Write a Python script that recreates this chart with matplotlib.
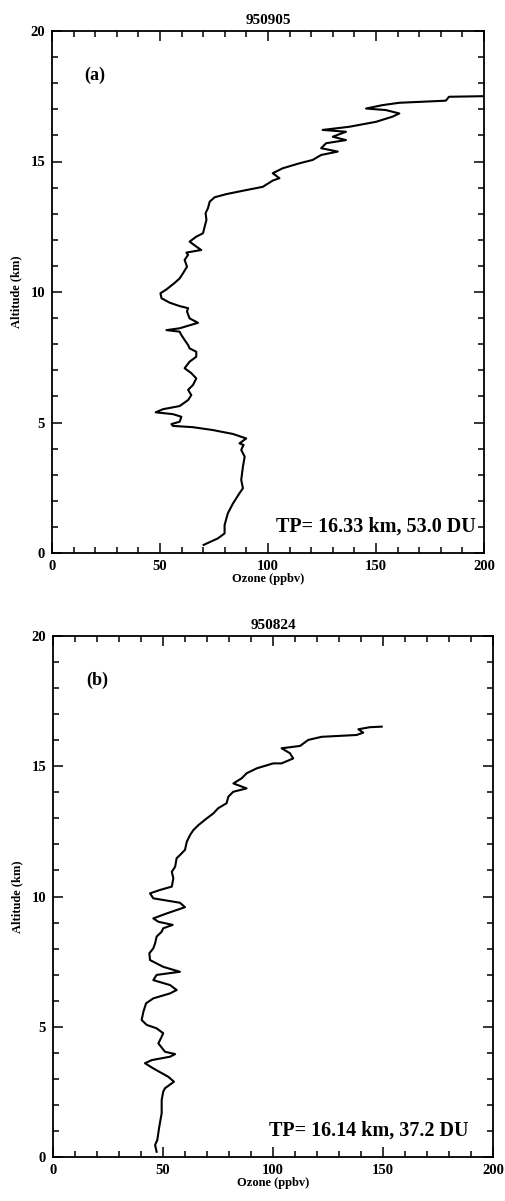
import matplotlib
matplotlib.use("Agg")
import matplotlib.pyplot as plt
from matplotlib.ticker import MultipleLocator

# ozone profile 950905 (panel a)
ozone_a = [70.2, 76.8, 79.9, 79.9, 81.4, 83.8, 86.8, 88.4, 87.6, 88.4, 89.2, 87.6, 88.7, 86.8, 89.9,
           83.8, 74.5, 65.3, 56.0, 55.3, 59.1, 59.9, 56.0, 48.0, 51.4, 59.1, 63.0, 64.5, 63.0, 65.3,
           66.8, 64.5, 61.4, 63.7, 66.8, 66.8, 63.7, 63.0, 61.4, 59.9, 59.1, 53.0, 59.1, 67.6, 63.7,
           62.5, 63.0, 59.1, 54.5, 50.7, 50.2, 53.0, 56.8, 59.1, 60.6, 62.5, 61.4, 63.0, 62.2, 69.1,
           66.8, 63.7, 66.8, 69.9, 70.7, 71.5, 71.1, 72.2, 73.0, 75.3, 80.7, 88.4, 97.6, 102.2, 105.3,
           102.2, 106.8, 114.5, 120.7, 124.6, 132.3, 124.6, 126.9, 136.1, 130.0, 136.1, 125.3, 137.6,
           150.0, 157.7, 160.8, 154.6, 145.4, 153.0, 160.8, 182.3, 183.8, 205.0]
alt_a = [0.31, 0.56, 0.75, 1.07, 1.52, 1.90, 2.29, 2.48, 2.80, 3.31, 3.69, 3.95, 4.14, 4.20, 4.39,
         4.56, 4.71, 4.82, 4.87, 4.94, 5.03, 5.22, 5.32, 5.39, 5.51, 5.63, 5.86, 6.05, 6.25, 6.44,
         6.69, 6.89, 7.08, 7.33, 7.52, 7.71, 7.84, 7.97, 8.16, 8.35, 8.48, 8.54, 8.61, 8.82, 8.99,
         9.25, 9.38, 9.46, 9.59, 9.76, 9.95, 10.10, 10.35, 10.52, 10.71, 10.97, 11.23, 11.42, 11.51, 11.61,
         11.74, 11.93, 12.12, 12.25, 12.51, 12.76, 13.02, 13.21, 13.46, 13.63, 13.75, 13.88, 14.03, 14.27, 14.36,
         14.55, 14.74, 14.93, 15.06, 15.25, 15.38, 15.51, 15.70, 15.82, 15.95, 16.14, 16.21, 16.33,
         16.52, 16.72, 16.84, 16.97, 17.03, 17.16, 17.25, 17.33, 17.48, 17.51]

# ozone profile 950824 (panel b)
ozone_b = [47.1, 46.4, 47.4, 48.3, 49.4, 49.4, 50.1, 50.9, 55.0, 52.4, 45.6, 41.8, 44.9, 53.2, 55.5,
           50.9, 47.9, 49.4, 50.1, 47.1, 42.6, 40.3, 41.1, 42.3, 45.6, 53.2, 56.2, 53.2, 45.6, 47.1,
           57.7, 50.1, 44.1, 43.8, 45.6, 46.4, 47.1, 49.4, 50.1, 54.4, 47.9, 45.6, 51.7, 60.0, 57.7,
           45.6, 44.1, 48.6, 54.0, 54.7, 54.0, 55.5, 56.2, 57.7, 60.0, 60.8, 62.3, 63.8, 66.1, 69.9,
           72.9, 75.1, 78.9, 79.7, 81.9, 88.0, 82.0, 85.8, 88.0, 92.6, 100.1, 103.9, 109.2, 107.7,
           103.9, 112.3, 116.0, 122.1, 138.0, 141.0, 138.8, 144.1, 149.4]
alt_b = [0.20, 0.46, 0.65, 1.16, 1.68, 2.19, 2.51, 2.64, 2.89, 3.08, 3.40, 3.60, 3.72, 3.85, 3.95,
         4.04, 4.36, 4.62, 4.75, 4.94, 5.07, 5.26, 5.58, 5.90, 6.09, 6.28, 6.41, 6.60, 6.79, 6.99,
         7.11, 7.30, 7.56, 7.82, 8.01, 8.20, 8.46, 8.65, 8.78, 8.91, 9.03, 9.16, 9.35, 9.59, 9.76,
         9.93, 10.12, 10.25, 10.38, 10.70, 10.95, 11.14, 11.47, 11.59, 11.79, 12.10, 12.36, 12.55, 12.74, 13.00,
         13.19, 13.39, 13.58, 13.83, 14.02, 14.15, 14.34, 14.54, 14.73, 14.92, 15.11, 15.11, 15.30, 15.50,
         15.69, 15.78, 16.01, 16.13, 16.20, 16.29, 16.42, 16.50, 16.52]

dates = ["950905", "950824"]
panel_tags = ["(a)", "(b)"]
tp_notes = ["TP= 16.33 km, 53.0 DU", "TP= 16.14 km, 37.2 DU"]

FONT = "Liberation Serif"
W, H = 505, 1201


def px_axes(fig, left, top, right, bottom):
    return fig.add_axes([left / W, 1 - bottom / H, (right - left) / W, (bottom - top) / H])


def draw_panel(ax, ozone, alt, date, tag, note, note_x):
    ax.plot(ozone, alt, color="black", linewidth=1.5)
    ax.set_xlim(0, 200)
    ax.set_ylim(0, 20)
    ax.xaxis.set_major_locator(MultipleLocator(50))
    ax.xaxis.set_minor_locator(MultipleLocator(10))
    ax.yaxis.set_major_locator(MultipleLocator(5))
    ax.yaxis.set_minor_locator(MultipleLocator(1))
    ax.tick_params(which="both", direction="in", top=True, right=True, width=1.1, color="black")
    ax.tick_params(which="major", length=7, labelsize=10.5, pad=5)
    ax.tick_params(which="minor", length=4)
    for lab in ax.get_xticklabels() + ax.get_yticklabels():
        lab.set_fontfamily(FONT)
        lab.set_fontweight("bold")
    for sp in ax.spines.values():
        sp.set_linewidth(1.3)
    ax.set_title(date, fontsize=11, fontweight="bold", family=FONT, pad=5)
    ax.set_xlabel("Ozone (ppbv)", fontsize=9, fontweight="bold", family=FONT, labelpad=0)
    ax.set_ylabel("Altitude (km)", fontsize=9, fontweight="bold", family=FONT, labelpad=6)
    ax.text(20, 18.3, tag, fontsize=13, fontweight="bold", family=FONT, ha="center", va="center")
    ax.text(note_x, 1.0, note, fontsize=14.5, fontweight="bold", family=FONT, ha="right", va="center")


fig = plt.figure(figsize=(W / 100, H / 100), dpi=100)
ax_a = px_axes(fig, 52, 31, 484, 553)
ax_b = px_axes(fig, 53, 636, 493, 1157)
draw_panel(ax_a, ozone_a, alt_a, dates[0], panel_tags[0], tp_notes[0], 196)
draw_panel(ax_b, ozone_b, alt_b, dates[1], panel_tags[1], tp_notes[1], 189)

fig.savefig("out.png", dpi=100)
